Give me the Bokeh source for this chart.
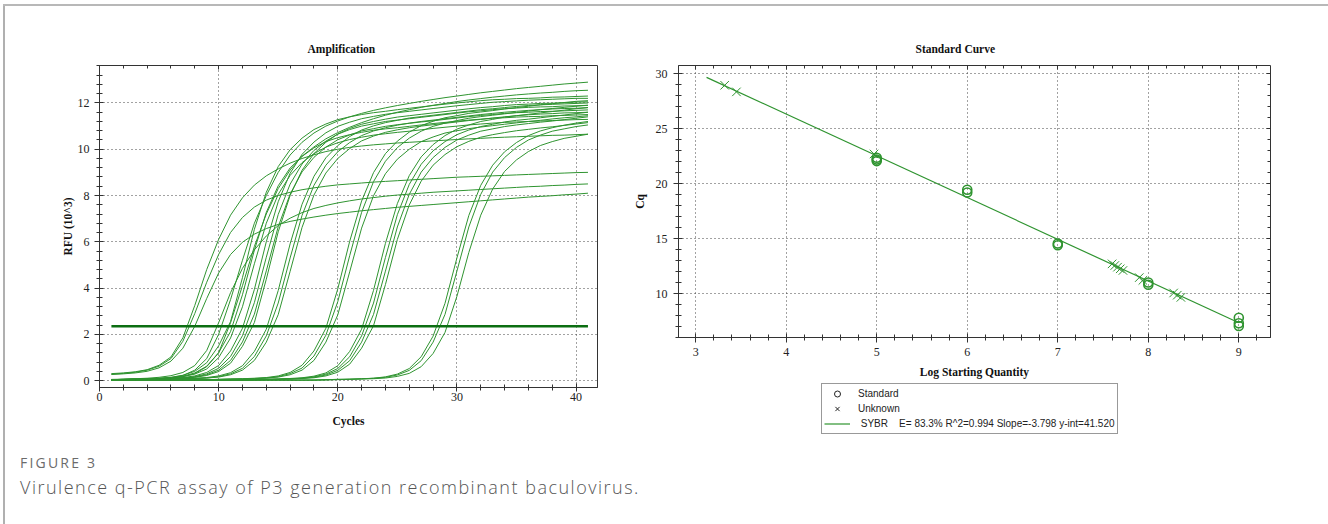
from bokeh.plotting import figure
from bokeh.models import (LinearAxis, Range1d, Legend, LegendItem, Div,
                          SingleIntervalTicker)
from bokeh.layouts import column, row
from bokeh.embed import file_html
from bokeh.resources import INLINE

# ---------------- data: amplification plot ----------------
CYCLES = list(range(1, 42))
THRESHOLD = 2.35
THRESH_X = [1, 41]

RFU_A1 = [0.30, 0.33, 0.38, 0.47, 0.66, 1.02, 1.85, 3.25, 4.80, 6.10, 7.15, 7.90, 8.45, 8.85, 9.15, 9.40, 9.60, 9.76, 9.90, 10.00,
          10.08, 10.14, 10.19, 10.23, 10.27, 10.30, 10.33, 10.36, 10.39, 10.42, 10.45, 10.47, 10.50, 10.52, 10.54, 10.56, 10.58, 10.60, 10.61, 10.63, 10.65]
RFU_A2 = [0.28, 0.31, 0.36, 0.45, 0.62, 0.95, 1.70, 2.90, 4.25, 5.45, 6.40, 7.05, 7.50, 7.80, 8.00, 8.14, 8.25, 8.33, 8.40, 8.46,
          8.50, 8.54, 8.58, 8.61, 8.64, 8.67, 8.70, 8.73, 8.76, 8.79, 8.81, 8.83, 8.85, 8.87, 8.89, 8.91, 8.93, 8.95, 8.97, 8.99, 9.00]
RFU_A3 = [0.26, 0.29, 0.33, 0.40, 0.55, 0.84, 1.40, 2.35, 3.55, 4.65, 5.45, 5.98, 6.33, 6.57, 6.75, 6.88, 6.98, 7.07, 7.15, 7.22,
          7.28, 7.34, 7.39, 7.44, 7.49, 7.53, 7.57, 7.61, 7.65, 7.69, 7.73, 7.77, 7.81, 7.85, 7.89, 7.93, 7.96, 7.99, 8.03, 8.06, 8.10]
RFU_B1 = [0.05, 0.06, 0.08, 0.10, 0.14, 0.21, 0.35, 0.65, 1.30, 2.50, 3.80, 4.85, 5.65, 6.25, 6.70, 7.02, 7.26, 7.44, 7.57, 7.68,
          7.77, 7.85, 7.91, 7.97, 8.02, 8.06, 8.10, 8.14, 8.17, 8.20, 8.23, 8.26, 8.29, 8.32, 8.35, 8.38, 8.40, 8.43, 8.45, 8.48, 8.50]
RFU_B2 = [0.04, 0.05, 0.06, 0.07, 0.09, 0.13, 0.22, 0.45, 0.95, 2.00, 3.50, 5.20, 6.80, 8.00, 9.00, 9.75, 10.30, 10.70, 11.00, 11.22,
          11.40, 11.55, 11.68, 11.79, 11.89, 11.98, 12.07, 12.15, 12.23, 12.30, 12.37, 12.44, 12.50, 12.56, 12.62, 12.67, 12.72, 12.77, 12.82, 12.86, 12.90]
RFU_C1 = [0.04, 0.05, 0.06, 0.07, 0.08, 0.11, 0.17, 0.30, 0.60, 1.20, 2.50, 4.10, 5.80, 7.20, 8.30, 9.10, 9.70, 10.10, 10.45, 10.72,
          10.95, 11.15, 11.32, 11.47, 11.60, 11.71, 11.81, 11.90, 11.98, 12.06, 12.13, 12.19, 12.25, 12.30, 12.35, 12.39, 12.43, 12.46, 12.50, 12.53, 12.55]
RFU_C2 = [0.04, 0.05, 0.07, 0.08, 0.10, 0.14, 0.23, 0.40, 0.77, 1.50, 2.55, 4.45, 6.54, 8.14, 9.25, 9.98, 10.48, 10.85, 11.09, 11.28,
          11.40, 11.50, 11.58, 11.64, 11.71, 11.77, 11.83, 11.89, 11.95, 12.00, 12.05, 12.10, 12.14, 12.16, 12.19, 12.20, 12.22, 12.25, 12.26, 12.28, 12.30]
RFU_C3 = [0.04, 0.05, 0.06, 0.08, 0.09, 0.12, 0.19, 0.33, 0.62, 1.20, 2.12, 3.71, 5.64, 7.27, 8.42, 9.19, 9.69, 10.06, 10.33, 10.50,
          10.63, 10.73, 10.82, 10.88, 10.93, 10.99, 11.05, 11.11, 11.16, 11.21, 11.26, 11.30, 11.34, 11.36, 11.39, 11.41, 11.42, 11.45, 11.46, 11.48, 11.50]
RFU_C4 = [0.04, 0.05, 0.06, 0.07, 0.09, 0.11, 0.17, 0.28, 0.50, 0.99, 1.84, 3.19, 5.05, 6.80, 8.05, 8.87, 9.42, 9.81, 10.09, 10.28,
          10.42, 10.52, 10.61, 10.67, 10.73, 10.78, 10.84, 10.90, 10.95, 11.00, 11.05, 11.09, 11.13, 11.16, 11.18, 11.20, 11.22, 11.24, 11.26, 11.28, 11.29]
RFU_D1 = [0.04, 0.04, 0.05, 0.07, 0.08, 0.10, 0.13, 0.20, 0.35, 0.65, 1.28, 2.26, 3.94, 6.00, 7.73, 8.96, 9.78, 10.31, 10.71, 10.99,
          11.17, 11.32, 11.42, 11.51, 11.58, 11.64, 11.70, 11.76, 11.82, 11.88, 11.93, 11.98, 12.03, 12.06, 12.09, 12.12, 12.14, 12.16, 12.18, 12.20, 12.20]
RFU_D2 = [0.04, 0.04, 0.05, 0.06, 0.07, 0.09, 0.11, 0.17, 0.29, 0.53, 1.04, 1.94, 3.37, 5.33, 7.18, 8.49, 9.36, 9.95, 10.35, 10.65,
          10.85, 11.00, 11.10, 11.20, 11.26, 11.32, 11.38, 11.44, 11.50, 11.56, 11.62, 11.66, 11.71, 11.75, 11.78, 11.81, 11.83, 11.84, 11.87, 11.88, 11.90]
RFU_D3 = [0.04, 0.04, 0.05, 0.06, 0.07, 0.08, 0.11, 0.15, 0.25, 0.45, 0.87, 1.67, 2.87, 4.74, 6.65, 8.06, 9.02, 9.65, 10.09, 10.41,
          10.62, 10.79, 10.89, 10.99, 11.06, 11.12, 11.18, 11.23, 11.29, 11.35, 11.41, 11.46, 11.50, 11.55, 11.58, 11.60, 11.63, 11.64, 11.66, 11.68, 11.70]
RFU_D4 = [0.04, 0.04, 0.04, 0.05, 0.07, 0.08, 0.10, 0.14, 0.22, 0.39, 0.75, 1.48, 2.51, 4.38, 6.43, 8.00, 9.09, 9.81, 10.30, 10.66,
          10.90, 11.08, 11.20, 11.30, 11.39, 11.45, 11.51, 11.57, 11.63, 11.69, 11.75, 11.80, 11.84, 11.89, 11.93, 11.95, 11.98, 11.99, 12.01, 12.04, 12.05]
RFU_E1 = [0.03, 0.03, 0.04, 0.04, 0.05, 0.07, 0.08, 0.10, 0.13, 0.20, 0.34, 0.64, 1.26, 2.22, 3.89, 5.91, 7.62, 8.83, 9.63, 10.16,
          10.55, 10.83, 11.01, 11.15, 11.25, 11.35, 11.41, 11.47, 11.53, 11.59, 11.65, 11.71, 11.75, 11.80, 11.85, 11.89, 11.92, 11.94, 11.96, 11.98, 12.00]
RFU_E2 = [0.03, 0.03, 0.04, 0.04, 0.05, 0.06, 0.07, 0.09, 0.11, 0.17, 0.29, 0.53, 1.04, 1.93, 3.35, 5.30, 7.14, 8.44, 9.31, 9.89,
          10.29, 10.59, 10.79, 10.93, 11.04, 11.13, 11.20, 11.26, 11.32, 11.38, 11.44, 11.50, 11.55, 11.60, 11.64, 11.68, 11.71, 11.74, 11.76, 11.77, 11.80]
RFU_E3 = [0.03, 0.03, 0.04, 0.04, 0.05, 0.06, 0.07, 0.08, 0.11, 0.15, 0.25, 0.45, 0.87, 1.66, 2.85, 4.72, 6.62, 8.02, 8.97, 9.60,
          10.03, 10.36, 10.57, 10.73, 10.84, 10.93, 11.00, 11.06, 11.12, 11.18, 11.24, 11.29, 11.35, 11.40, 11.45, 11.49, 11.52, 11.54, 11.57, 11.58, 11.60]
RFU_F1 = [0.02, 0.02, 0.02, 0.02, 0.03, 0.03, 0.03, 0.03, 0.04, 0.05, 0.07, 0.08, 0.10, 0.13, 0.20, 0.35, 0.66, 1.28, 2.26, 3.96,
          6.02, 7.76, 8.99, 9.81, 10.35, 10.74, 11.02, 11.21, 11.36, 11.45, 11.55, 11.61, 11.67, 11.74, 11.80, 11.86, 11.92, 11.97, 12.02, 12.07, 12.10]
RFU_F2 = [0.02, 0.02, 0.02, 0.02, 0.02, 0.03, 0.03, 0.03, 0.04, 0.05, 0.06, 0.07, 0.09, 0.11, 0.17, 0.30, 0.54, 1.06, 1.96, 3.41,
          5.40, 7.27, 8.60, 9.48, 10.07, 10.48, 10.78, 10.99, 11.13, 11.24, 11.34, 11.41, 11.47, 11.53, 11.59, 11.65, 11.71, 11.76, 11.81, 11.86, 11.90]
RFU_F3 = [0.02, 0.02, 0.02, 0.02, 0.02, 0.02, 0.03, 0.03, 0.03, 0.05, 0.06, 0.07, 0.08, 0.11, 0.15, 0.25, 0.45, 0.87, 1.66, 2.84,
          4.70, 6.59, 7.99, 8.94, 9.57, 10.00, 10.33, 10.53, 10.70, 10.80, 10.89, 10.96, 11.02, 11.08, 11.14, 11.20, 11.25, 11.31, 11.36, 11.40, 11.45]
RFU_G1 = [0.02, 0.02, 0.02, 0.02, 0.02, 0.02, 0.02, 0.02, 0.02, 0.02, 0.02, 0.02, 0.04, 0.06, 0.07, 0.09, 0.12, 0.19, 0.33, 0.64,
          1.26, 2.22, 3.90, 5.93, 7.65, 8.86, 9.67, 10.20, 10.59, 10.87, 11.05, 11.20, 11.29, 11.39, 11.45, 11.51, 11.57, 11.63, 11.69, 11.75, 11.80]
RFU_G2 = [0.02, 0.02, 0.02, 0.02, 0.02, 0.02, 0.02, 0.02, 0.02, 0.02, 0.02, 0.02, 0.04, 0.05, 0.06, 0.08, 0.10, 0.16, 0.28, 0.52,
          1.03, 1.93, 3.35, 5.32, 7.17, 8.48, 9.35, 9.93, 10.33, 10.63, 10.83, 10.98, 11.08, 11.18, 11.25, 11.30, 11.36, 11.42, 11.48, 11.54, 11.60]
RFU_G3 = [0.02, 0.02, 0.02, 0.02, 0.02, 0.02, 0.02, 0.02, 0.02, 0.02, 0.02, 0.02, 0.04, 0.05, 0.06, 0.07, 0.10, 0.14, 0.24, 0.44,
          0.86, 1.66, 2.86, 4.73, 6.64, 8.05, 9.01, 9.64, 10.08, 10.40, 10.61, 10.78, 10.88, 10.98, 11.05, 11.11, 11.17, 11.22, 11.28, 11.34, 11.40]
RFU_G4 = [0.02, 0.02, 0.02, 0.02, 0.02, 0.02, 0.02, 0.02, 0.02, 0.02, 0.02, 0.02, 0.02, 0.04, 0.05, 0.07, 0.09, 0.12, 0.20, 0.36,
          0.71, 1.40, 2.37, 4.15, 6.10, 7.59, 8.62, 9.31, 9.77, 10.11, 10.34, 10.52, 10.63, 10.72, 10.80, 10.86, 10.92, 10.97, 11.03, 11.09, 11.15]
RFU_H1 = [0.02, 0.02, 0.02, 0.02, 0.02, 0.02, 0.02, 0.02, 0.02, 0.02, 0.02, 0.02, 0.02, 0.02, 0.02, 0.02, 0.02, 0.02, 0.04, 0.05,
          0.06, 0.08, 0.10, 0.16, 0.28, 0.52, 1.03, 1.92, 3.34, 5.30, 7.14, 8.44, 9.31, 9.89, 10.29, 10.59, 10.79, 10.93, 11.04, 11.13, 11.20]
RFU_H2 = [0.02, 0.02, 0.02, 0.02, 0.02, 0.02, 0.02, 0.02, 0.02, 0.02, 0.02, 0.02, 0.02, 0.02, 0.02, 0.02, 0.02, 0.02, 0.04, 0.05,
          0.06, 0.07, 0.10, 0.14, 0.24, 0.44, 0.86, 1.66, 2.86, 4.73, 6.64, 8.05, 9.01, 9.64, 10.08, 10.40, 10.61, 10.78, 10.88, 10.98, 11.05]
RFU_H3 = [0.02, 0.02, 0.02, 0.02, 0.02, 0.02, 0.02, 0.02, 0.02, 0.02, 0.02, 0.02, 0.02, 0.02, 0.02, 0.02, 0.02, 0.02, 0.02, 0.04,
          0.05, 0.07, 0.08, 0.11, 0.18, 0.31, 0.60, 1.17, 2.08, 3.64, 5.54, 7.15, 8.28, 9.04, 9.54, 9.90, 10.16, 10.33, 10.47, 10.56, 10.65]

AMP_CURVES = [RFU_A1, RFU_A2, RFU_A3, RFU_B1, RFU_B2, RFU_C1, RFU_C2, RFU_C3, RFU_C4,
              RFU_D1, RFU_D2, RFU_D3, RFU_D4, RFU_E1, RFU_E2, RFU_E3, RFU_F1, RFU_F2, RFU_F3,
              RFU_G1, RFU_G2, RFU_G3, RFU_G4, RFU_H1, RFU_H2, RFU_H3]

# ---------------- data: standard curve ----------------
STD_LOGQ = [5, 5, 5, 6, 6, 7, 7, 8, 8, 9, 9, 9]
STD_CQ = [22.35, 22.2, 22.05, 19.45, 19.2, 14.55, 14.4, 11.0, 10.8, 7.8, 7.3, 7.05]
UNK_LOGQ = [3.32, 3.45, 4.97, 7.6, 7.63, 7.66, 7.69, 7.72, 7.9, 7.94, 8.28, 8.32, 8.36]
UNK_CQ = [28.95, 28.35, 22.7, 12.7, 12.55, 12.4, 12.25, 12.1, 11.45, 11.2, 10.05, 9.85, 9.65]
FIT_LOGQ = [3.12, 9.0]
FIT_CQ = [29.67, 7.34]
LEGEND_LABELS = ["Standard", "Unknown",
                 "\u00a0SYBR\u00a0\u00a0\u00a0\u00a0E= 83.3% R^2=0.994 Slope=-3.798 y-int=41.520"]

GREEN = "#2f9430"
DARK_GREEN = "#0c6e12"
AXIS_C = "#333333"
SERIF = "Liberation Serif"


def style_axes(p, xint, yint, x_out, x_stand, y_stand, ylab_stand, xlab_stand, title_offset):
    p.xaxis.ticker = SingleIntervalTicker(interval=xint, num_minor_ticks=5)
    p.yaxis.ticker = SingleIntervalTicker(interval=yint, num_minor_ticks=5)
    for ax in (p.xaxis[0], p.yaxis[0]):
        ax.axis_line_color = AXIS_C
        ax.major_tick_line_color = AXIS_C
        ax.minor_tick_line_color = AXIS_C
        ax.major_label_text_font = SERIF
        ax.major_label_text_font_size = "12px"
        ax.major_label_text_color = "#222222"
        ax.axis_label_text_font = SERIF
        ax.axis_label_text_font_style = "bold"
        ax.axis_label_text_font_size = "11.5px"
        ax.axis_label_text_color = "#111111"
    xa, ya = p.xaxis[0], p.yaxis[0]
    xa.major_tick_out, xa.major_tick_in = x_out, 4
    xa.minor_tick_out, xa.minor_tick_in = 3, 3
    xa.major_label_standoff = x_stand
    xa.axis_label_standoff = xlab_stand
    ya.major_tick_out, ya.major_tick_in = 5, 4
    ya.minor_tick_out, ya.minor_tick_in = 3, 3
    ya.major_label_standoff = y_stand
    ya.axis_label_standoff = ylab_stand
    for g in (p.xgrid[0], p.ygrid[0]):
        g.grid_line_color = "#444444"
        g.grid_line_dash = "1 3"
        g.grid_line_width = 1
    p.outline_line_color = AXIS_C
    p.border_fill_color = None
    p.title.align = "left"
    p.title.offset = title_offset
    p.title.text_font = SERIF
    p.title.text_font_style = "bold"
    p.title.text_font_size = "11.5px"
    p.title.text_color = "#111111"
    p.title.standoff = 21


def tick_only_axis(interval):
    return LinearAxis(ticker=SingleIntervalTicker(interval=interval, num_minor_ticks=5),
                      major_label_text_color=None, axis_line_color=None,
                      major_tick_line_color=AXIS_C, minor_tick_line_color=AXIS_C,
                      major_tick_in=4, major_tick_out=0, minor_tick_in=3, minor_tick_out=0)


# ---------------- left figure ----------------
p1 = figure(width=620, height=440, output_backend="svg", toolbar_location=None,
            x_range=Range1d(0, 41.8), y_range=Range1d(-0.3, 13.62),
            min_border_left=99, min_border_right=23, min_border_top=65, min_border_bottom=53,
            title="Amplification", x_axis_label="Cycles", y_axis_label="RFU (10^3)",
            frame_align=False)
style_axes(p1, 10, 2, x_out=4, x_stand=1, y_stand=5, ylab_stand=1, xlab_stand=11, title_offset=208)
p1.add_layout(tick_only_axis(10), "above")
p1.multi_line(xs=[CYCLES] * len(AMP_CURVES), ys=AMP_CURVES, line_color=GREEN, line_width=1)
p1.line(THRESH_X, [THRESHOLD, THRESHOLD], line_color=DARK_GREEN, line_width=2.5)

# ---------------- right figure ----------------
p2 = figure(width=708, height=382, output_backend="svg", toolbar_location=None,
            x_range=Range1d(2.81, 9.35), y_range=Range1d(6.0, 30.75),
            min_border_left=58, min_border_right=58, min_border_top=65, min_border_bottom=45,
            title="Standard Curve", x_axis_label="Log Starting Quantity", y_axis_label="Cq",
            frame_align=False)
style_axes(p2, 1, 5, x_out=5, x_stand=5, y_stand=6, ylab_stand=7, xlab_stand=7, title_offset=237)
p2.add_layout(tick_only_axis(1), "above")
p2.add_layout(tick_only_axis(5), "right")

p2.line(FIT_LOGQ, FIT_CQ, line_color=GREEN, line_width=1.2)
p2.scatter(STD_LOGQ, STD_CQ, marker="circle", size=9, fill_color=None, line_color=GREEN, line_width=1.6)
p2.scatter(UNK_LOGQ, UNK_CQ, marker="x", size=12, line_color=GREEN, line_width=1)

# ---------------- legend strip under the standard curve ----------------
pl = figure(width=708, height=58, output_backend="svg", toolbar_location=None,
            x_range=Range1d(0, 1), y_range=Range1d(0, 1),
            x_axis_location=None, y_axis_location=None, min_border=0,
            frame_align=False)
pl.outline_line_color = None
pl.border_fill_color = None
pl.background_fill_color = None
pl.xgrid.visible = False
pl.ygrid.visible = False
leg_std = pl.scatter(x=[-5], y=[-5], marker="circle", size=9, fill_color=None, line_color="#222222", line_width=1)
leg_unk = pl.scatter(x=[-5], y=[-5], marker="x", size=12, line_color="#222222", line_width=1)
leg_fit = pl.line(x=[-5, -4], y=[-5, -5], line_color=GREEN, line_width=1.2)
legend = Legend(items=[LegendItem(label=LEGEND_LABELS[0], renderers=[leg_std]),
                       LegendItem(label=LEGEND_LABELS[1], renderers=[leg_unk]),
                       LegendItem(label=LEGEND_LABELS[2], renderers=[leg_fit])],
                location=(201, 6), orientation="vertical",
                label_text_font="Liberation Sans", label_text_font_size="10px",
                label_text_color="#222222", label_height=14, glyph_height=15, glyph_width=26,
                label_standoff=8, spacing=0, padding=2, margin=0,
                border_line_color="#333333", border_line_width=1, background_fill_alpha=1)
pl.add_layout(legend)

caption = Div(text=(
    '<div style="font-family:\'Open Sans\';color:#6b6b6b;font-size:14px;line-height:18px;'
    'letter-spacing:2.2px;margin:9px 0 0 15px">FIGURE 3</div>'
    '<div style="font-family:\'Open Sans\';font-weight:300;color:#555555;font-size:18px;line-height:24px;'
    'letter-spacing:1.5px;margin:3px 0 0 15px">Virulence q-PCR assay of P3 generation recombinant baculovirus.</div>'),
    width=1328, height=83)

frame_shadow = ("inset 0 4px 0 0 #ffffff, inset 3px 0 0 0 #ffffff, inset -1px 0 0 0 #ffffff, "
                "inset 0 6px 0 0 #b8b8b8, inset 5px 0 0 0 #b0b0b0, inset -3px 0 0 0 #b0b0b0")
layout = column(row(p1, column(p2, pl)), caption, styles={"box-shadow": frame_shadow})
open("out.html", "w").write(file_html(layout, INLINE))
